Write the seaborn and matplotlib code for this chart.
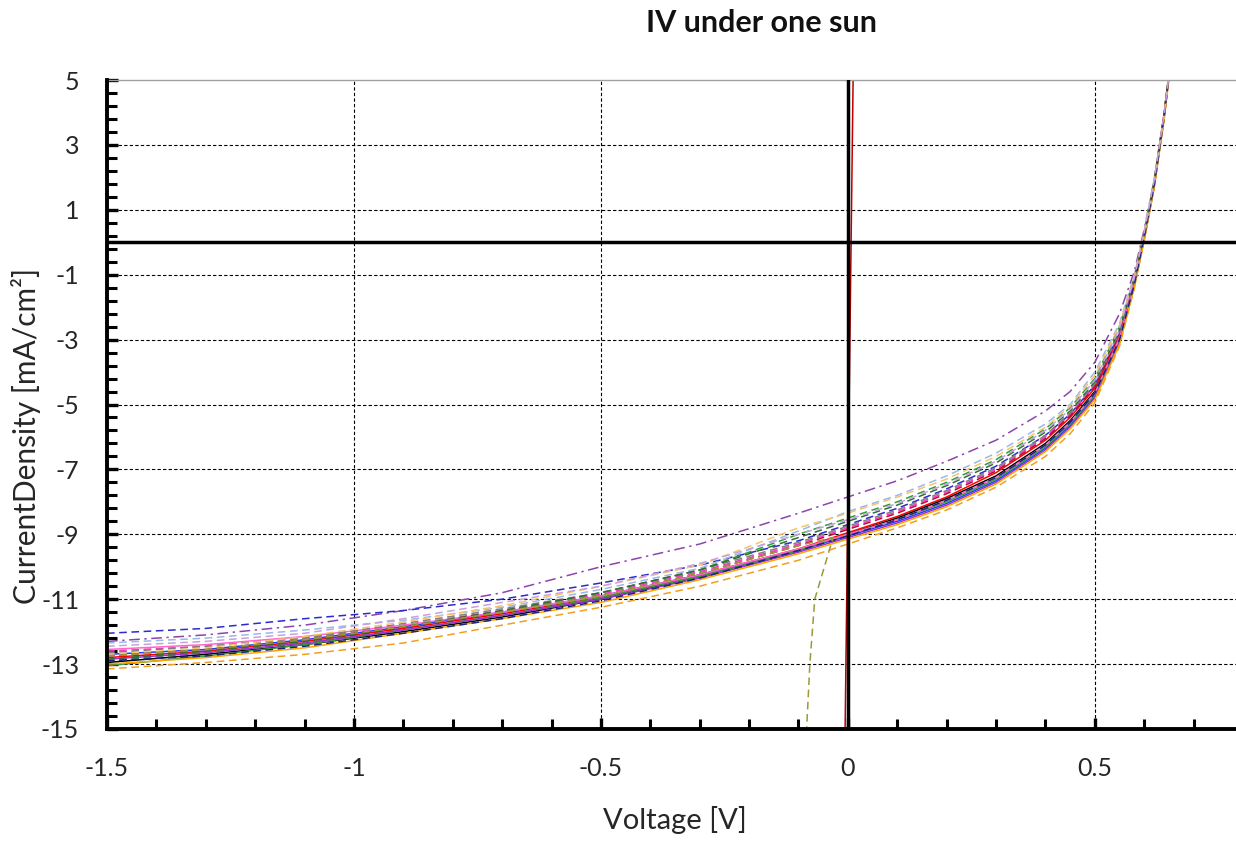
import matplotlib
matplotlib.use("Agg")
import matplotlib.pyplot as plt
import seaborn as sns
import pandas as pd
from matplotlib.ticker import MultipleLocator

sns.set_theme(style="white")
plt.rcParams['font.family'] = ['Lato', 'DejaVu Sans']
plt.rcParams['axes.unicode_minus'] = False

# ---------------- data ----------------
voltage = [-1.5, -1.3, -1.1, -0.9, -0.7, -0.5, -0.3, -0.1, 0.0, 0.1, 0.2,
           0.3, 0.4, 0.45, 0.5, 0.55, 0.58, 0.6, 0.62, 0.64, 0.66]

curves = {
    "c01": [-12.3, -12.1, -11.8, -11.35, -10.8, -10.0, -9.3, -8.35, -7.85, -7.35, -6.75, -6.1, -5.2, -4.6, -3.7, -2.2, -0.9, 0.4, 1.9, 3.9, 6.3],
    "c02": [-12.05, -11.9, -11.6, -11.35, -11.0, -10.5, -9.95, -9.2, -8.7, -8.2, -7.6, -6.9, -5.95, -5.3, -4.4, -2.8, -1.2, 0.2, 1.8, 3.8, 6.4],
    "c03": [-12.35, -12.2, -11.95, -11.65, -11.25, -10.7, -10.05, -8.9, -8.3, -7.8, -7.2, -6.5, -5.6, -5.0, -4.0, -2.5, -1.0, 0.3, 1.9, 3.9, 6.4],
    "c04": [-13.15, -12.95, -12.7, -12.35, -11.8, -11.25, -10.6, -9.8, -9.3, -8.8, -8.25, -7.55, -6.6, -5.9, -4.95, -3.2, -1.4, 0.1, 1.7, 3.8, 6.3],
    "c05": [-12.9, -12.65, -12.35, -11.9, -11.4, -10.8, -10.1, -9.0, -8.5, -8.0, -7.4, -6.7, -5.75, -5.1, -4.2, -2.6, -1.1, 0.25, 1.85, 3.9, 6.4],
    "c06": [-12.8, -12.6, -12.3, -11.9, -11.45, -10.95, -10.25, -9.45, -8.95, -8.45, -7.85, -7.1, -6.1, -5.4, -4.5, -2.9, -1.2, 0.2, 1.8, 3.9, 6.5],
    "c07": [-12.95, -12.7, -12.4, -12.0, -11.55, -11.0, -10.3, -9.5, -9.0, -8.5, -7.9, -7.2, -6.2, -5.5, -4.6, -3.0, -1.3, 0.15, 1.75, 3.85, 6.4],
    "c08": [-12.7, -12.55, -12.25, -11.85, -11.4, -10.9, -10.25, -9.5, -9.05, -8.6, -8.05, -7.35, -6.35, -5.65, -4.75, -3.05, -1.3, 0.1, 1.7, 3.8, 6.4],
    "c09": [-12.6, -12.45, -12.2, -11.8, -11.35, -10.85, -10.15, -9.3, -8.8, -8.3, -7.7, -7.0, -6.0, -5.3, -4.4, -2.8, -1.15, 0.25, 1.85, 3.9, 6.5],
    "c10": [-13.05, -12.75, -12.4, -11.95, -11.5, -10.95, -10.3, -9.5, -9.0, -8.55, -8.0, -7.3, -6.3, -5.6, -4.7, -3.0, -1.3, 0.15, 1.75, 3.85, 6.4],
    "c11": [-12.75, -12.55, -12.25, -11.85, -11.4, -10.9, -10.2, -9.35, -8.85, -8.35, -7.75, -7.05, -6.05, -5.35, -4.45, -2.85, -1.2, 0.2, 1.8, 3.9, 6.5],
    "c12": [-12.55, -12.4, -12.15, -11.8, -11.4, -10.9, -10.25, -9.45, -9.0, -8.55, -7.95, -7.25, -6.25, -5.55, -4.65, -2.95, -1.25, 0.15, 1.75, 3.85, 6.45],
    "c13": [-12.85, -12.65, -12.35, -11.95, -11.5, -11.0, -10.35, -9.55, -9.1, -8.65, -8.1, -7.4, -6.4, -5.7, -4.8, -3.1, -1.35, 0.1, 1.7, 3.8, 6.4],
    "c14": [-13.0, -12.8, -12.5, -12.05, -11.6, -11.1, -10.4, -9.6, -9.15, -8.7, -8.15, -7.45, -6.45, -5.75, -4.85, -3.15, -1.4, 0.05, 1.65, 3.75, 6.3],
    "c15": [-12.65, -12.45, -12.2, -11.75, -11.3, -10.8, -10.1, -9.25, -8.75, -8.25, -7.65, -6.95, -5.95, -5.25, -4.35, -2.75, -1.1, 0.3, 1.9, 3.95, 6.5],
    "c16": [-12.85, -12.6, -12.3, -11.85, -11.35, -10.8, -10.1, -9.1, -8.6, -8.1, -7.5, -6.8, -5.85, -5.2, -4.3, -2.7, -1.15, 0.25, 1.85, 3.9, 6.45],
    "c17": [-12.7, -12.5, -12.15, -11.7, -11.2, -10.6, -9.95, -8.8, -8.35, -7.85, -7.3, -6.6, -5.7, -5.05, -4.1, -2.55, -1.05, 0.3, 1.9, 3.9, 6.4],
    "c18": [-12.9, -12.75, -12.45, -12.05, -11.6, -11.05, -10.35, -9.5, -9.05, -8.55, -7.95, -7.25, -6.25, -5.55, -4.65, -3.0, -1.3, 0.15, 1.75, 3.85, 6.4],
    "c19": [-12.45, -12.3, -12.05, -11.6, -11.1, -10.6, -9.9, -9.0, -8.55, -8.05, -7.45, -6.75, -5.8, -5.15, -4.25, -2.65, -1.1, 0.3, 1.9, 3.9, 6.4],
}

# olive curve that breaks down near 0 V
olive_v = [-1.5, -1.3, -1.1, -0.9, -0.7, -0.5, -0.3, -0.1, -0.03, -0.067, -0.077, -0.0835, -0.086]
olive_j = [-12.75, -12.55, -12.25, -11.85, -11.4, -10.9, -10.2, -9.35, -9.1, -11.0, -13.0, -15.0, -15.5]

# shorted device (near-vertical line)
short_v = [-0.006, 0.011]
short_j = [-15.5, 5.5]

x_ticks = [-1.5, -1, -0.5, 0, 0.5]
x_ticklabels = ["-1.5", "-1", "-0.5", "0", "0.5"]
y_ticks = [5, 3, 1, -1, -3, -5, -7, -9, -11, -13, -15]
y_ticklabels = ["5", "3", "1", "-1", "-3", "-5", "-7", "-9", "-11", "-13", "-15"]

# ---------------- styles ----------------
colors = {
    "c01": "#8e44ad", "c02": "#2b2bd0", "c03": "#9ab8e8", "c04": "#f0a020",
    "c05": "#2e9e3a", "c06": "#ff0000", "c07": "#000000", "c08": "#1f3fff",
    "c09": "#ff33cc", "c10": "#3a9a3a", "c11": "#b01030", "c12": "#ff66cc",
    "c13": "#9933cc", "c14": "#ffa500", "c15": "#808080", "c16": "#2f6f2f",
    "c17": "#f7c36a", "c18": "#1a237e", "c19": "#c9a0dc",
    "olive": "#9a9a3a", "short": "#c00000",
}
dashes = {
    "c01": (7, 3, 1.5, 3), "c02": (5, 3), "c03": (5, 3), "c04": (5, 3),
    "c05": (5, 3), "c06": "", "c07": "", "c08": "", "c09": (5, 3),
    "c10": "", "c11": (5, 3), "c12": "", "c13": "", "c14": "",
    "c15": (5, 3), "c16": (5, 3), "c17": (5, 3), "c18": (5, 3), "c19": (5, 3),
    "olive": (5, 3), "short": "",
}

rows = []
for name, js in curves.items():
    for v, j in zip(voltage, js):
        rows.append((name, v, j))
for v, j in zip(olive_v, olive_j):
    rows.append(("olive", v, j))
for v, j in zip(short_v, short_j):
    rows.append(("short", v, j))
df = pd.DataFrame(rows, columns=["curve", "V", "J"])

# ---------------- figure ----------------
fig = plt.figure(figsize=(12.36, 8.43), dpi=100)
W, H = 1236, 843
left_px, right_px, top_px, bot_px = 107, 1243, 80, 729
ax = fig.add_axes([left_px / W, 1 - bot_px / H, (right_px - left_px) / W, (bot_px - top_px) / H])

ax.set_xlim(-1.5, 0.8)
ax.set_ylim(-15, 5)

for xv in x_ticks[1:]:
    ax.axvline(xv, color="black", lw=0.8, ls=(0, (3, 2)), zorder=1)
for yv in y_ticks[1:-1]:
    ax.axhline(yv, color="black", lw=0.8, ls=(0, (3, 2)), zorder=1)

sns.lineplot(data=df, x="V", y="J", hue="curve", style="curve",
             palette=colors, dashes=dashes, sort=False, estimator=None,
             legend=False, lw=1.1, ax=ax, zorder=2)

ax.axhline(0, color="black", lw=2.5, zorder=3)
ax.axvline(0, color="black", lw=2.5, zorder=3)

ax.set_xticks(x_ticks)
ax.set_xticklabels(x_ticklabels)
ax.set_yticks(y_ticks)
ax.set_yticklabels(y_ticklabels)
ax.xaxis.set_minor_locator(MultipleLocator(0.1))
ax.yaxis.set_minor_locator(MultipleLocator(0.4, offset=0.2))
ax.tick_params(axis="both", which="major", direction="in", length=8, width=2.4,
               labelsize=18, color="black", labelcolor="#262626",
               bottom=True, left=True, top=False, right=False, pad=20)
ax.tick_params(axis="both", which="minor", direction="in", length=7, width=2.2,
               color="black", bottom=True, left=True, top=False, right=False)

for s in ["left", "bottom"]:
    ax.spines[s].set_color("black")
    ax.spines[s].set_linewidth(2.8)
    ax.spines[s].set_zorder(4)
ax.spines["top"].set_color("#a0a0a0")
ax.spines["top"].set_linewidth(1.0)
ax.spines["right"].set_visible(False)

ax.set_xlabel("")
ax.set_ylabel("")
fig.text(675 / W, 1 - 820 / H, "Voltage [V]", ha="center", va="center",
         fontsize=21, color="#262626")
fig.text(26 / W, 1 - 436 / H, "CurrentDensity [mA/cm²]", ha="center", va="center",
         rotation=90, fontsize=21.5, color="#262626")
fig.text(761 / W, 1 - 23 / H, "IV under one sun", ha="center", va="center",
         fontsize=22, fontweight="bold", color="#111111")

fig.savefig("out.png", dpi=100)
